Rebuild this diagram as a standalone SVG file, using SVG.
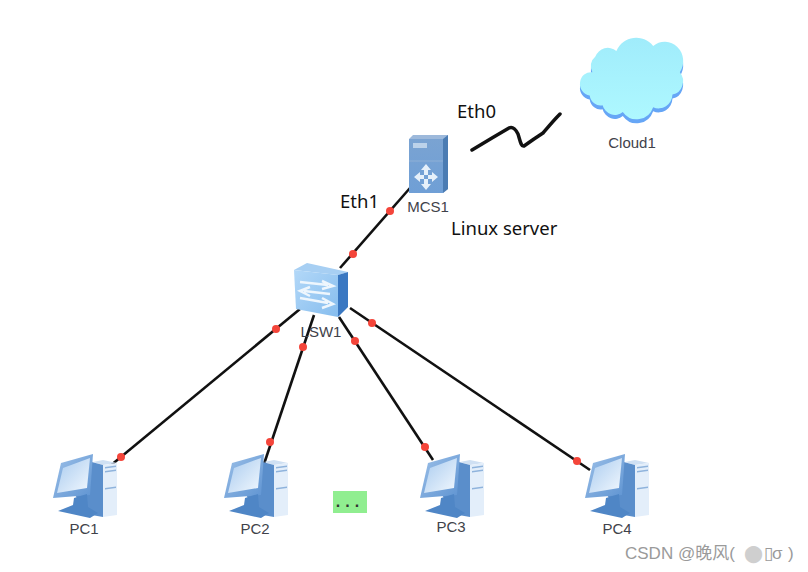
<svg xmlns="http://www.w3.org/2000/svg" width="808" height="572" viewBox="0 0 808 572">
  <style>
    .label { font-family: "Liberation Sans", Arial, sans-serif; font-size: 15px; fill: #3f424a; text-anchor: middle; }
    .note { font-family: "Noto Sans", "Open Sans", sans-serif; font-size: 18.5px; fill: #111; }
    .link { stroke: #111; stroke-width: 2.600; fill: none; }
    .port { fill: #f4453a; }
  </style>
  <defs>
    <linearGradient id="pcScreen" x1="0" y1="0" x2="1" y2="1">
      <stop offset="0" stop-color="#a9cbef"/><stop offset="1" stop-color="#f2f8fe"/>
    </linearGradient>
    <linearGradient id="pcFrame" x1="0" y1="0" x2="1" y2="1">
      <stop offset="0" stop-color="#9cc0e8"/><stop offset="1" stop-color="#5f94d2"/>
    </linearGradient>
    <linearGradient id="cloudFill" x1="0" y1="0" x2="0" y2="1">
      <stop offset="0" stop-color="#a0ecfb"/><stop offset="1" stop-color="#aef8ff"/>
    </linearGradient>
    <linearGradient id="switchFace" x1="0" y1="0" x2="1" y2="1">
      <stop offset="0" stop-color="#b3d8f8"/><stop offset="1" stop-color="#86bdee"/>
    </linearGradient>
    <linearGradient id="serverFace" x1="0" y1="0" x2="0" y2="1">
      <stop offset="0" stop-color="#7aa3d2"/><stop offset="1" stop-color="#6f9fd6"/>
    </linearGradient>
    <!-- Desktop computer: tower behind, monitor in front, origin at the upper left of the icon -->
    <g id="pc">
      <path d="M43 7L53 5L67 8L53 10Z" fill="#cfe0f3"/>
      <path d="M53 10L67 8V60L53 62Z" fill="#e3eefa"/>
      <path d="M55 12L66 10.500V12L55 13.500Z M55 16L66 14.500V16L55 17.500Z M55 33L66 31.500V33L55 34.500Z" fill="#8fb3dc"/>
      <path d="M38 6L53 10V62L36 59L24 38Z" fill="#5a8ecb"/>
      <path d="M3 43L11 8L43 -1L40 40Z" fill="url(#pcFrame)"/>
      <path d="M7 38L13 13L40 3L37 33Z" fill="url(#pcScreen)"/>
      <path d="M24 43L37 39L38 52L48 58L40 63L8 56L23 50Z" fill="#4f86c6"/>
    </g>
    <path id="cloudShape" d="M586 96A10 10 0 0 1 589 72A12 12 0 0 1 592 56A15 15 0 0 1 615 50A24 24 0 0 1 655 45A20 20 0 0 1 684 72A14 14 0 0 1 676 95A15 15 0 0 1 655 108A19 19 0 0 1 622 113A14 14 0 0 1 600 106A12 12 0 0 1 586 96Z" transform="translate(632 80) scale(0.92 0.97) translate(-632 -80)"/>
  </defs>

  <rect width="808" height="572" fill="#fff"/>

  <g id="connectors">
    <path class="link" d="M410 188L340 268"/>
    <path class="link" d="M300 309L110 466"/>
    <path class="link" d="M314 315L264 464"/>
    <path class="link" d="M339 317L433 460"/>
    <path class="link" d="M350 308L590 470"/>
    <path d="M472 150L492 138L509 128C513 126 516 130 518 134C520 140 521 147 524 146L534 139L543 133C549 126 554 120 560 114" stroke="#111" stroke-width="3.500" fill="none" stroke-linecap="round" stroke-linejoin="round"/>
    <circle class="port" cx="390" cy="211" r="4"/>
    <circle class="port" cx="353" cy="254" r="4"/>
    <circle class="port" cx="276" cy="329" r="4"/>
    <circle class="port" cx="121" cy="457" r="4"/>
    <circle class="port" cx="303" cy="347" r="4"/>
    <circle class="port" cx="270" cy="442" r="4"/>
    <circle class="port" cx="355" cy="341" r="4"/>
    <circle class="port" cx="425" cy="447" r="4"/>
    <circle class="port" cx="372" cy="323" r="4"/>
    <circle class="port" cx="577" cy="461" r="4"/>
  </g>

  <g id="Cloud1">
    <use href="#cloudShape" fill="#66a6f6" y="4"/>
    <use href="#cloudShape" fill="url(#cloudFill)"/>
    <text class="label" x="632" y="148">Cloud1</text>
  </g>

  <g id="MCS1">
    <path d="M409 139L413 135L448 135L448 189L443 193L409 193Z" fill="#9db9db"/>
    <path d="M443 139L448 135V189L443 193Z" fill="#4b7cb3"/>
    <path d="M409 139H443V193H409Z" fill="url(#serverFace)"/>
    <rect x="413" y="143" width="14" height="5" fill="#bcd2ea"/>
    <path d="M409 161H443" stroke="#8fb0d6" stroke-width="1"/>
    <path d="M426 164L431 170H428V175H424V170H421Z M426 190L421 184H424V179H428V184H431Z M414 177L420 172V175H424V179H420V182Z M438 177L432 182V179H428V175H432V172Z" fill="#e6f0fa"/>
    <text class="label" x="428" y="212">MCS1</text>
  </g>

  <g id="LSW1">
    <path d="M294 270L307 263L348 272L338 275Z" fill="#a7cff3"/>
    <path d="M338 275L348 272V307L338 317Z" fill="#3a78c2"/>
    <path d="M294 270L338 275V317L296 309Z" fill="url(#switchFace)"/>
    <path d="M300 282L328 285M322 281L333 286L322 289" stroke="#eef6fd" stroke-width="2.500" fill="none"/>
    <path d="M330 294L304 291M310 287L300 291L310 296" stroke="#eef6fd" stroke-width="2.500" fill="none"/>
    <path d="M300 298L328 303M322 298L333 304L322 308" stroke="#eef6fd" stroke-width="2.500" fill="none"/>
    <text class="label" x="321" y="337">LSW1</text>
  </g>

  <g id="PC1"><use href="#pc" x="50" y="455"/><text class="label" x="84" y="534">PC1</text></g>
  <g id="PC2"><use href="#pc" x="221" y="455"/><text class="label" x="255" y="534">PC2</text></g>
  <g id="PC3"><use href="#pc" x="417" y="455"/><text class="label" x="451" y="532">PC3</text></g>
  <g id="PC4"><use href="#pc" x="582" y="455"/><text class="label" x="617" y="534">PC4</text></g>

  <g id="more">
    <rect x="333" y="491" width="34" height="22" fill="#90ee90"/>
    <text x="350" y="507" font-family="Liberation Sans, sans-serif" font-size="16" font-weight="bold" fill="#333" text-anchor="middle" letter-spacing="5">...</text>
  </g>

  <text class="note" x="457" y="118">Eth0</text>
  <text class="note" x="340" y="208">Eth1</text>
  <text class="note" x="451" y="235">Linux server</text>

  <text x="625" y="559" font-family="Liberation Sans, Noto Sans CJK SC, sans-serif" font-size="17" fill="#9a9a9a">CSDN @晚风(<tspan x="744" fill="#cfcfcf">⬤</tspan><tspan x="764">▯</tspan><tspan x="772">σ</tspan><tspan x="788">)</tspan></text>
</svg>
